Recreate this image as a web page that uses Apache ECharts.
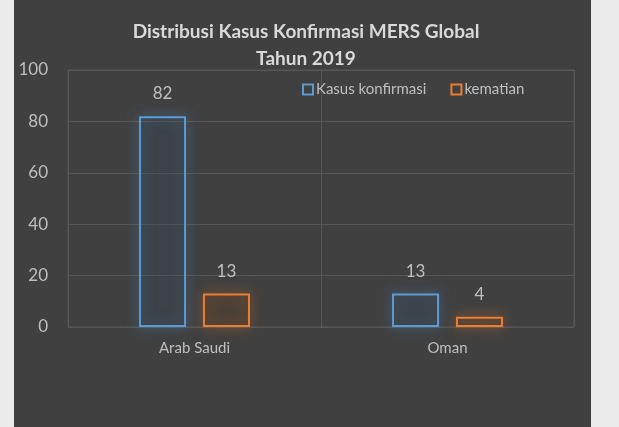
<!DOCTYPE html>
<html>
<head>
<meta charset="utf-8">
<script src="https://cdn.jsdelivr.net/npm/echarts@6/dist/echarts.min.js"></script>
<style>
  html, body { margin: 0; padding: 0; background: #ebebeb; }
  #chart { width: 619px; height: 427px; }
</style>
</head>
<body>
<div id="chart"></div>
<script>
// data
const categories = ['Arab Saudi', 'Oman'];
const kasusKonfirmasi = [82, 13];
const kematian = [13, 4];
const seriesNames = ['Kasus konfirmasi', 'kematian'];
const seriesColors = ['#5b9bd5', '#ed7d31'];
const glowColors = ['rgba(91,155,213,0.75)', 'rgba(237,125,49,0.75)'];

const chart = echarts.init(document.getElementById('chart'));
const font = 'Lato, "Open Sans", sans-serif';

const makeSeries = (name, values, i) => ({
  name: name,
  type: 'bar',
  data: values,
  barWidth: 47,
  barGap: '36%',
  itemStyle: {
    color: 'rgba(30,30,30,0.15)',
    borderColor: seriesColors[i],
    borderWidth: 2,
    shadowBlur: 14,
    shadowColor: glowColors[i]
  },
  label: {
    show: true,
    position: 'top',
    distance: 14,
    color: '#bfbfbf',
    fontSize: 17,
    fontFamily: font
  },
  emphasis: { disabled: true },
  animation: false
});

chart.setOption({
  backgroundColor: '#ebebeb',
  graphic: [
    {
      type: 'rect',
      shape: { x: 14, y: 0, width: 577, height: 427 },
      style: { fill: '#404040' },
      z: -10
    }
  ],
  title: {
    text: 'Distribusi Kasus Konfirmasi MERS Global\nTahun 2019',
    left: 301,
    textAlign: 'center',
    top: 13,
    textStyle: {
      color: '#d9d9d9',
      fontSize: 19,
      fontWeight: 'bold',
      fontFamily: font,
      lineHeight: 27
    }
  },
  legend: {
    left: 297,
    top: 77,
    itemWidth: 10,
    itemHeight: 10,
    itemGap: 24,
    textStyle: { color: '#bfbfbf', fontSize: 15, fontFamily: font, padding: [0, 0, 0, -2] },
    data: seriesNames.map((n, i) => ({
      name: n,
      icon: 'rect',
      itemStyle: { color: 'transparent', borderColor: seriesColors[i], borderWidth: 2, shadowBlur: 0 }
    }))
  },
  grid: {
    left: 68,
    right: 45,
    top: 70,
    bottom: 100,
    show: true,
    borderColor: '#575757',
    borderWidth: 1
  },
  xAxis: {
    type: 'category',
    data: categories,
    axisLine: { show: false },
    axisTick: { show: false },
    axisLabel: { color: '#bfbfbf', fontSize: 15, fontFamily: font, margin: 14 },
    splitLine: { show: true, interval: 0, lineStyle: { color: '#575757' } }
  },
  yAxis: {
    type: 'value',
    min: 0,
    max: 100,
    interval: 20,
    axisLine: { show: false },
    axisTick: { show: false },
    axisLabel: { color: '#bfbfbf', fontSize: 17, fontFamily: font, margin: 20 },
    splitLine: { lineStyle: { color: '#575757' } }
  },
  series: [
    makeSeries(seriesNames[0], kasusKonfirmasi, 0),
    makeSeries(seriesNames[1], kematian, 1)
  ]
});
</script>
</body>
</html>
